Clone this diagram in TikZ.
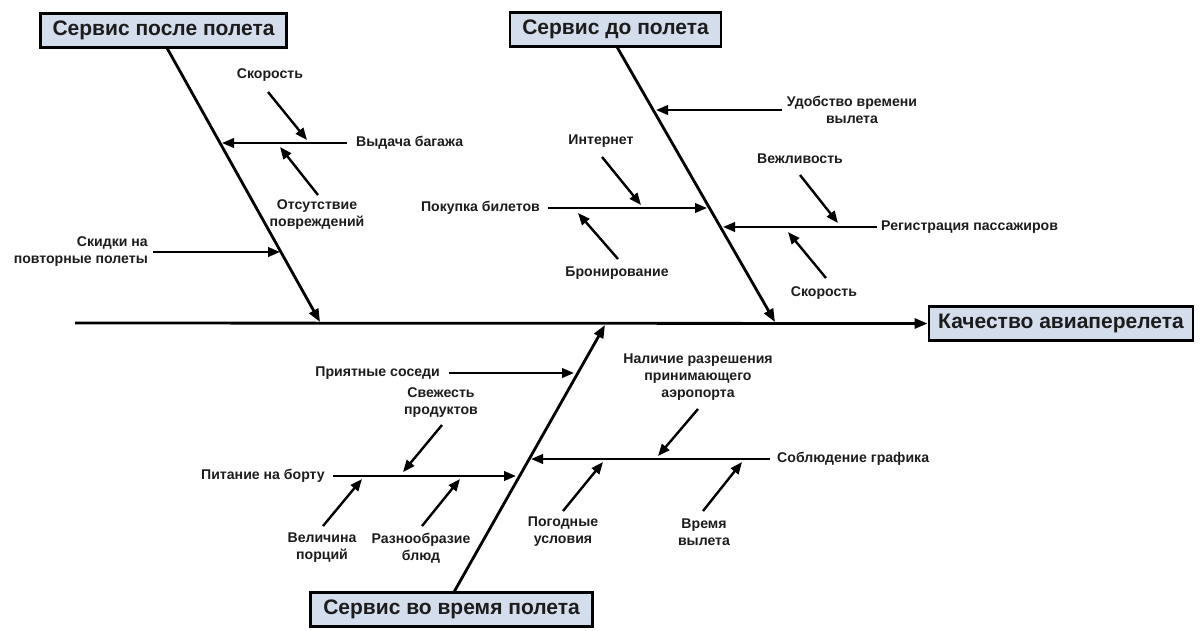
\documentclass[tikz,border=0pt]{standalone}
\usepackage{fontspec}
\setmainfont{Liberation Sans}
\usetikzlibrary{arrows.meta}
\definecolor{boxfill}{RGB}{212,221,236}
\definecolor{ink}{RGB}{28,28,28}
\tikzset{
  lbl/.style={font=\bfseries\fontsize{14.1}{17}\selectfont, text=ink, inner sep=1pt, align=center},
  title/.style={draw=black, line width=2.8pt, fill=boxfill, text=ink,
    font=\bfseries\fontsize{21}{25}\selectfont, inner sep=0pt, minimum height=34pt},
  bone/.style={draw=black, line width=2.8pt, -{Triangle[length=13pt,width=10pt]}},
  sub/.style={draw=black, line width=2.4pt, -{Triangle[length=12pt,width=9.5pt]}},
}
\begin{document}
\begin{tikzpicture}[x=1pt,y=-1pt]
\useasboundingbox (0,0) rectangle (1204,630);
% title boxes
\node[title, minimum width=246pt] (b1) at (163.5,30.5) {Сервис после полета};
\node[title, minimum width=211pt] (b2) at (615.5,29.5) {Сервис до полета};
\node[title, minimum width=282pt] (b3) at (451.5,609.5) {Сервис во время полета};
\node[title, minimum width=264pt] (eff) at (1061,323.5) {Качество авиаперелета};
% main spine
\coordinate (s0) at (75,323);
\draw[bone] (s0) -- (eff.west);
% main bones
\coordinate (b1s) at (167,48);  \coordinate (t1) at (320,322);
\coordinate (b2s) at (617,47);  \coordinate (t2) at (775,322);
\coordinate (b3s) at (454,592); \coordinate (t3) at (605,325);
\draw[bone] (b1s) -- (t1);
\draw[bone] (b2s) -- (t2);
\draw[bone] (b3s) -- (t3);

% ---------- bone 1: after flight ----------
\node[lbl, anchor=west] (l11) at (355,143) {Выдача багажа};
\coordinate (e11) at (347,143); \coordinate (h11) at (222,143);
\draw[sub] (e11) -- (h11);
\node[lbl] (l12) at (270,75) {Скорость};
\coordinate (a12) at (268,92); \coordinate (h12) at (307,140);
\draw[sub] (a12) -- (h12);
\node[lbl] (l13) at (317,215) {Отсутствие\\повреждений};
\coordinate (a13) at (318,195); \coordinate (h13) at (280,147);
\draw[sub] (a13) -- (h13);
\node[lbl, align=right, anchor=east] (l14) at (149,252) {Скидки на\\повторные полеты};
\coordinate (e14) at (153,252); \coordinate (h14) at (280,252);
\draw[sub] (e14) -- (h14);

% ---------- bone 2: before flight ----------
\node[lbl] (l21) at (852,110) {Удобство времени\\вылета};
\coordinate (e21) at (782,110); \coordinate (h21) at (656,110);
\draw[sub] (e21) -- (h21);
\node[lbl, anchor=east] (l22) at (541,208) {Покупка билетов};
\coordinate (e22) at (548,208); \coordinate (h22) at (707,208);
\draw[sub] (e22) -- (h22);
\node[lbl] (l23) at (601,141) {Интернет};
\coordinate (a23) at (602,157); \coordinate (h23) at (641,205);
\draw[sub] (a23) -- (h23);
\node[lbl] (l24) at (617,273) {Бронирование};
\coordinate (a24) at (618,259); \coordinate (h24) at (578,213);
\draw[sub] (a24) -- (h24);
\node[lbl, anchor=west] (l25) at (880,227) {Регистрация пассажиров};
\coordinate (e25) at (877,227); \coordinate (h25) at (723,227);
\draw[sub] (e25) -- (h25);
\node[lbl] (l26) at (800,159) {Вежливость};
\coordinate (a26) at (800,175); \coordinate (h26) at (838,223);
\draw[sub] (a26) -- (h26);
\node[lbl] (l27) at (824,293) {Скорость};
\coordinate (a27) at (826,278); \coordinate (h27) at (788,232);
\draw[sub] (a27) -- (h27);

% ---------- bone 3: during flight ----------
\node[lbl, anchor=east] (l31) at (441,373) {Приятные соседи};
\coordinate (e31) at (449,373); \coordinate (h31) at (574,373);
\draw[sub] (e31) -- (h31);
\node[lbl, anchor=east] (l32) at (326,476) {Питание на борту};
\coordinate (e32) at (333,476); \coordinate (h32) at (516,476);
\draw[sub] (e32) -- (h32);
\node[lbl] (l33) at (441,403) {Свежесть\\продуктов};
\coordinate (a33) at (442,425); \coordinate (h33) at (403,472);
\draw[sub] (a33) -- (h33);
\node[lbl] (l34) at (322,548) {Величина\\порций};
\coordinate (a34) at (323,526); \coordinate (h34) at (362,479);
\draw[sub] (a34) -- (h34);
\node[lbl] (l35) at (421,548) {Разнообразие\\блюд};
\coordinate (a35) at (422,526); \coordinate (h35) at (460,479);
\draw[sub] (a35) -- (h35);
\node[lbl, anchor=west] (l36) at (776,459) {Соблюдение графика};
\coordinate (e36) at (770,459); \coordinate (h36) at (531,459);
\draw[sub] (e36) -- (h36);
\node[lbl] (l37) at (698,377) {Наличие разрешения\\принимающего\\аэропорта};
\coordinate (a37) at (698,409); \coordinate (h37) at (658,456);
\draw[sub] (a37) -- (h37);
\node[lbl] (l38) at (563,532) {Погодные\\условия};
\coordinate (a38) at (563,511); \coordinate (h38) at (603,462);
\draw[sub] (a38) -- (h38);
\node[lbl] (l39) at (704,532) {Время\\вылета};
\coordinate (a39) at (703,511); \coordinate (h39) at (742,462);
\draw[sub] (a39) -- (h39);
\end{tikzpicture}
\end{document}
